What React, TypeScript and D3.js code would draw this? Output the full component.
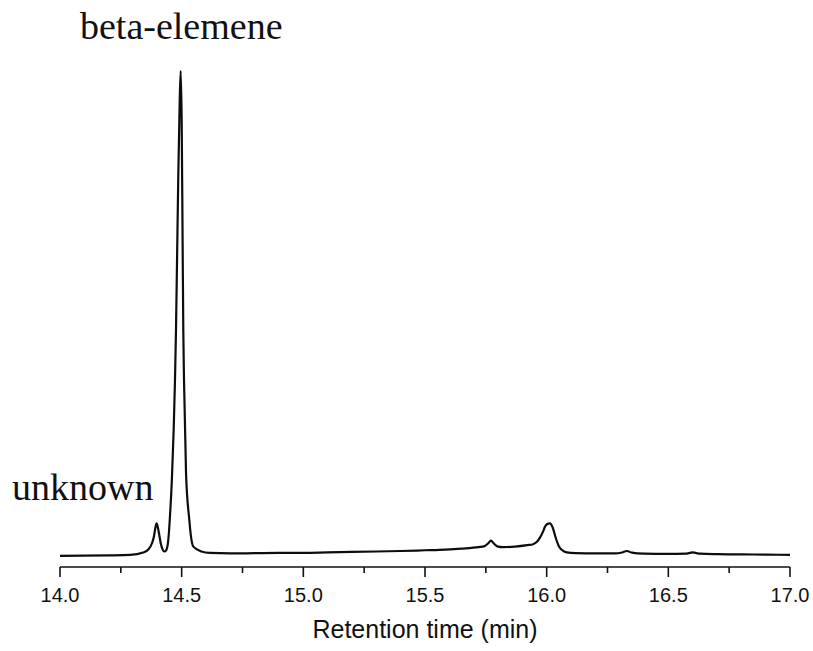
import React from "react";
import * as d3 from "d3";

// Retention time (min) and detector response (relative units, main peak = 100)
const times: number[] = [
  14.0, 14.1, 14.2, 14.288, 14.342, 14.363, 14.378, 14.386, 14.392, 14.397, 14.402, 14.408, 14.414, 14.421,
  14.429, 14.437, 14.443, 14.447, 14.451, 14.46, 14.4726, 14.4767, 14.486, 14.492, 14.496, 14.5, 14.504,
  14.5067, 14.5096, 14.518, 14.5314, 14.537, 14.548, 14.582, 14.616, 14.7, 14.8, 14.9, 15.0, 15.1, 15.2,
  15.3, 15.4, 15.5, 15.56, 15.65, 15.72, 15.745, 15.76, 15.771, 15.782, 15.8, 15.82, 15.87, 15.92, 15.944,
  15.96, 15.973, 15.985, 15.993, 16.003, 16.014, 16.025, 16.038, 16.05, 16.062, 16.082, 16.12, 16.2, 16.28,
  16.31, 16.33, 16.35, 16.4, 16.5, 16.57, 16.6, 16.63, 16.7, 16.8, 16.9, 17.0,
];
const intensity: number[] = [
  0.0, 0.05, 0.1, 0.2, 0.7, 1.3, 2.6, 4.0, 5.8, 6.7, 5.9, 4.3, 2.6, 1.4,
  0.9, 1.2, 2.4, 4.4, 7.4, 16, 36.3, 46.6, 78, 94, 100, 90, 64,
  46.6, 36.3, 17, 7.4, 4.5, 1.9, 0.9, 0.6, 0.5, 0.55, 0.6, 0.6, 0.7, 0.8,
  0.9, 1.0, 1.15, 1.24, 1.5, 1.8, 2.0, 2.6, 3.15, 2.6, 1.9, 1.8, 1.9, 2.2, 2.4,
  2.9, 3.8, 5.0, 6.0, 6.6, 6.7, 5.8, 3.6, 2.0, 1.24, 0.7, 0.55, 0.5, 0.5,
  0.7, 1.0, 0.65, 0.45, 0.4, 0.45, 0.7, 0.45, 0.35, 0.3, 0.25, 0.2,
];

const majorTicks: number[] = [14.0, 14.5, 15.0, 15.5, 16.0, 16.5, 17.0];
const majorTickLabels: string[] = ["14.0", "14.5", "15.0", "15.5", "16.0", "16.5", "17.0"];
const minorTicks: number[] = [14.25, 14.75, 15.25, 15.75, 16.25, 16.75];
const xTitle = "Retention time (min)";
const peakLabels: { text: string; x: number; y: number }[] = [
  { text: "beta-elemene", x: 80, y: 39 },
  { text: "unknown", x: 12, y: 500 },
];

export default function App() {
  const W = 813;
  const H = 651;
  const x = d3.scaleLinear().domain([14, 17]).range([60, 790]);
  const y = d3.scaleLinear().domain([-2.3, 100]).range([567, 71]);
  const data = times.map((t, i) => [t, intensity[i]] as [number, number]);
  const line = d3
    .line<[number, number]>()
    .x((d) => x(d[0]))
    .y((d) => y(d[1]))
    .curve(d3.curveMonotoneX);
  const axisY = y.range()[0];

  return (
    <svg
      width={W}
      height={H}
      style={{ position: "absolute", left: 0, top: 0, background: "#fff" }}
    >
      <rect width={W} height={H} fill="#fff" />
      <path d={line(data) || ""} fill="none" stroke="#0d0d0d" strokeWidth={2.2} strokeLinejoin="round" />
      <line x1={x(14)} x2={x(17)} y1={axisY} y2={axisY} stroke="#111" strokeWidth={1.6} />
      {majorTicks.map((t, i) => (
        <g key={"M" + i}>
          <line x1={x(t)} x2={x(t)} y1={axisY} y2={axisY + 10} stroke="#111" strokeWidth={1.6} />
          <text
            x={x(t)}
            y={602}
            textAnchor="middle"
            fontFamily="Liberation Sans, Arial, sans-serif"
            fontSize={20}
            fill="#111"
          >
            {majorTickLabels[i]}
          </text>
        </g>
      ))}
      {minorTicks.map((t, i) => (
        <line key={"m" + i} x1={x(t)} x2={x(t)} y1={axisY} y2={axisY + 6} stroke="#111" strokeWidth={1.6} />
      ))}
      <text
        x={(x(14) + x(17)) / 2}
        y={638}
        textAnchor="middle"
        fontFamily="Liberation Sans, Arial, sans-serif"
        fontSize={25}
        fill="#111"
      >
        {xTitle}
      </text>
      {peakLabels.map((p, i) => (
        <text
          key={"p" + i}
          x={p.x}
          y={p.y}
          fontFamily="Liberation Serif, Times New Roman, serif"
          fontSize={38}
          fill="#111"
        >
          {p.text}
        </text>
      ))}
    </svg>
  );
}
